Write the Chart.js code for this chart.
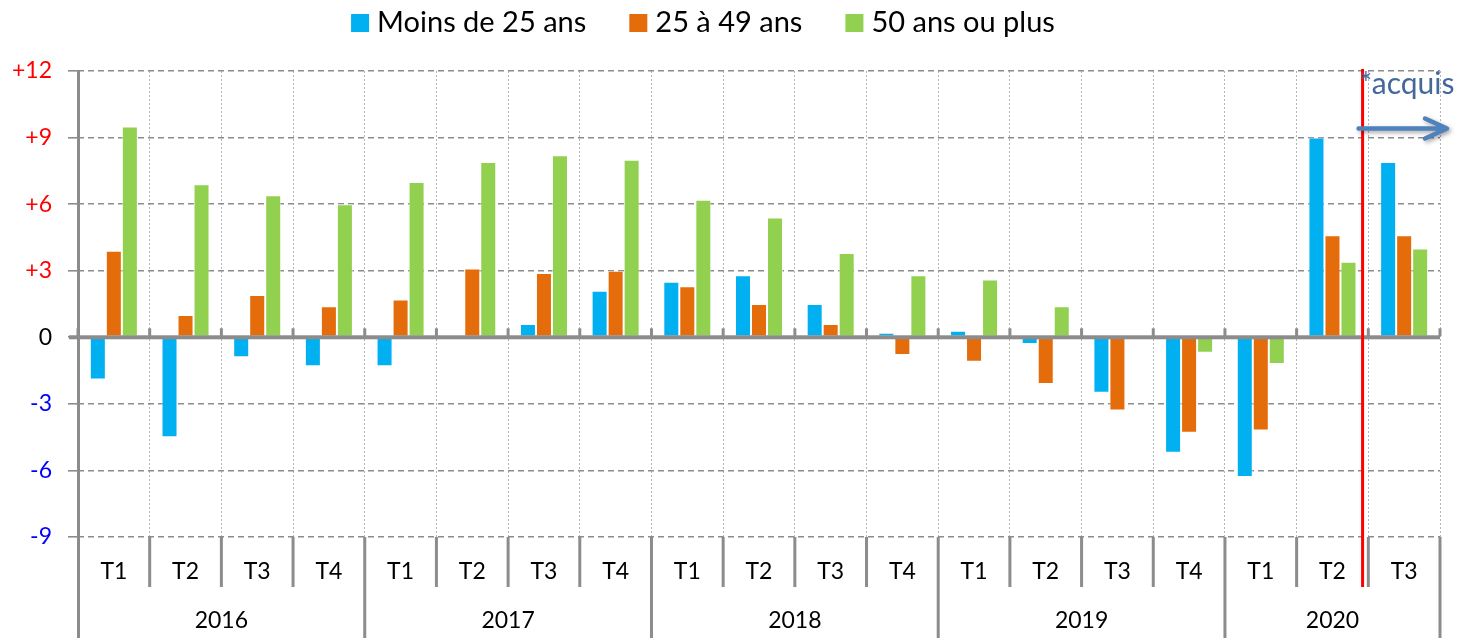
<!DOCTYPE html>
<html>
<head>
<meta charset="utf-8">
<script src="https://cdn.jsdelivr.net/npm/chart.js@4.4.1/dist/chart.umd.min.js"></script>
<style>
  html, body { margin: 0; padding: 0; background: #fff; }
  #wrap { width: 1463px; height: 638px; }
</style>
</head>
<body>
<div id="wrap"><canvas id="chart"></canvas></div>
<script>
// categories
const quarters = ["T1", "T2", "T3", "T4", "T1", "T2", "T3", "T4", "T1", "T2", "T3", "T4",
  "T1", "T2", "T3", "T4", "T1", "T2", "T3"]
const years = ["2016", "2017", "2018", "2019", "2020"]
const quartersPerYear = [4, 4, 4, 4, 3]

// series
const under25 = [-1.9, -4.5, -0.9, -1.3, -1.3, 0.0, 0.6, 2.1, 2.5, 2.8, 1.5, 0.2,
  0.3, -0.3, -2.5, -5.2, -6.3, 9.0, 7.9]
const from25to49 = [3.9, 1.0, 1.9, 1.4, 1.7, 3.1, 2.9, 3.0, 2.3, 1.5, 0.6, -0.8,
  -1.1, -2.1, -3.3, -4.3, -4.2, 4.6, 4.6]
const over50 = [9.5, 6.9, 6.4, 6.0, 7.0, 7.9, 8.2, 8.0, 6.2, 5.4, 3.8, 2.8,
  2.6, 1.4, 0.1, -0.7, -1.2, 3.4, 4.0]

const seriesNames = ["Moins de 25 ans", "25 à 49 ans", "50 ans ou plus"]
const seriesColors = ["#00b0f0", "#e46c0a", "#92d050"]

// y axis
const yMin = -9
const yMax = 12
const yStep = 3

// "acquis" marker sits inside the last-but-one quarter
const acquisIndex = 17
const acquisText = "*acquis"

const FONT = "Lato, 'Liberation Sans', Arial, sans-serif"
const GRAY = "#8c8c8c"

const decorations = {
  id: "decorations",
  afterDatasetsDraw(chart) {
    const { ctx, chartArea: area, scales: { x, y } } = chart
    const step = x.getPixelForValue(1) - x.getPixelForValue(0)
    const zero = y.getPixelForValue(0)
    ctx.save()
    // zero line
    ctx.fillStyle = GRAY
    ctx.fillRect(area.left - 9, zero - 2, area.right - area.left + 9, 4)
    // small ticks on zero line
    for (let i = 0; i <= quarters.length; i++) {
      const bx = x.getPixelForValue(i) - step / 2
      ctx.fillRect(bx - 1.5, zero - 9, 3, 8)
    }
    // y axis line
    ctx.fillRect(area.left - 1, area.top, 3, area.bottom - area.top)
    ctx.restore()
  },
  afterDraw(chart) {
    const { ctx, chartArea: area, scales: { x, y } } = chart
    const step = x.getPixelForValue(1) - x.getPixelForValue(0)
    const rowH = 50
    ctx.save()

    // category rows
    ctx.fillStyle = GRAY
    ctx.fillRect(area.left - 1, area.bottom, 3, chart.height - area.bottom)
    let idx = 0
    ctx.textAlign = "center"
    ctx.textBaseline = "middle"
    years.forEach((yr, k) => {
      const n = quartersPerYear[k]
      const start = x.getPixelForValue(idx) - step / 2
      const end = x.getPixelForValue(idx + n - 1) + step / 2
      for (let j = 0; j < n; j++) {
        const cx = x.getPixelForValue(idx + j)
        ctx.fillStyle = "#000"
        ctx.font = "23px " + FONT
        ctx.fillText(quarters[idx + j], cx, area.bottom + 35)
        if (j < n - 1) {
          ctx.fillStyle = GRAY
          ctx.fillRect(cx + step / 2 - 1.5, area.bottom, 3, rowH)
        }
      }
      ctx.fillStyle = GRAY
      ctx.fillRect(end - 1.5, area.bottom, 3, chart.height - area.bottom)
      ctx.fillStyle = "#000"
      ctx.font = "23px " + FONT
      ctx.fillText(yr, (start + end) / 2, area.bottom + 84)
      idx += n
    })

    // red "acquis" line
    const rx = x.getPixelForValue(acquisIndex) + step * 0.42
    ctx.fillStyle = "#ff0000"
    ctx.fillRect(rx - 1.5, area.top - 2, 3, area.bottom + rowH - area.top + 2)

    ctx.fillStyle = "#44679c"
    ctx.font = "30px " + FONT
    ctx.textAlign = "left"
    ctx.textBaseline = "alphabetic"
    ctx.fillText(acquisText, rx - 3, area.top + 23)

    // arrow
    const ay = y.getPixelForValue(9) - 9
    ctx.strokeStyle = "#4f81bd"
    ctx.lineWidth = 4.5
    ctx.lineCap = "round"
    ctx.lineJoin = "round"
    ctx.shadowColor = "rgba(0,0,0,0.35)"
    ctx.shadowBlur = 4
    ctx.shadowOffsetX = 2
    ctx.shadowOffsetY = 2
    ctx.beginPath()
    ctx.moveTo(rx - 4, ay)
    ctx.lineTo(area.right + 6, ay)
    ctx.moveTo(area.right - 15, ay - 10)
    ctx.lineTo(area.right + 7, ay)
    ctx.lineTo(area.right - 15, ay + 10)
    ctx.stroke()
    ctx.shadowColor = "transparent"

    // legend
    ctx.font = "29px " + FONT
    ctx.textBaseline = "middle"
    const box = 18
    const gapText = 8
    const gapItem = 43
    const widths = seriesNames.map(s => ctx.measureText(s).width)
    const total = widths.reduce((a, w) => a + box + gapText + w, 0) + gapItem * (seriesNames.length - 1)
    let lx = 703 - total / 2
    seriesNames.forEach((name, i) => {
      ctx.fillStyle = seriesColors[i]
      ctx.fillRect(lx, 14, box, box)
      ctx.fillStyle = "#000"
      ctx.fillText(name, lx + box + gapText, 23)
      lx += box + gapText + widths[i] + gapItem
    })
    ctx.restore()
  }
}

const datasets = [under25, from25to49, over50].map((values, i) => ({
  label: seriesNames[i],
  data: values,
  backgroundColor: seriesColors[i],
  borderColor: "rgba(255,255,255,0.55)",
  borderWidth: 1,
  borderSkipped: false,
  categoryPercentage: 0.67,
  barPercentage: 1.0
}))

new Chart(document.getElementById("chart"), {
  type: "bar",
  data: { labels: quarters, datasets },
  options: {
    responsive: true,
    maintainAspectRatio: false,
    animation: false,
    layout: { padding: { top: 71, right: 23, left: 0, bottom: 0 } },
    plugins: {
      legend: { display: false },
      tooltip: { enabled: false }
    },
    scales: {
      x: {
        grid: {
          offset: true,
          drawTicks: false,
          color: "#b4b4b4",
          lineWidth: 1
        },
        border: { display: false, dash: [2, 2] },
        ticks: { display: false },
        afterFit: s => { s.height = 101 }
      },
      y: {
        min: yMin,
        max: yMax,
        ticks: {
          stepSize: yStep,
          padding: 16,
          font: { size: 23, family: FONT },
          color: c => c.tick.value > 0 ? "#ff0000" : c.tick.value < 0 ? "#0000ff" : "#000000",
          callback: v => v > 0 ? "+" + v : String(v)
        },
        grid: {
          color: GRAY,
          lineWidth: 1.6,
          tickLength: 10
        },
        border: { display: false, dash: [6, 4] },
        afterFit: s => { s.width = 78 }
      }
    }
  },
  plugins: [decorations]
})
</script>
</body>
</html>
